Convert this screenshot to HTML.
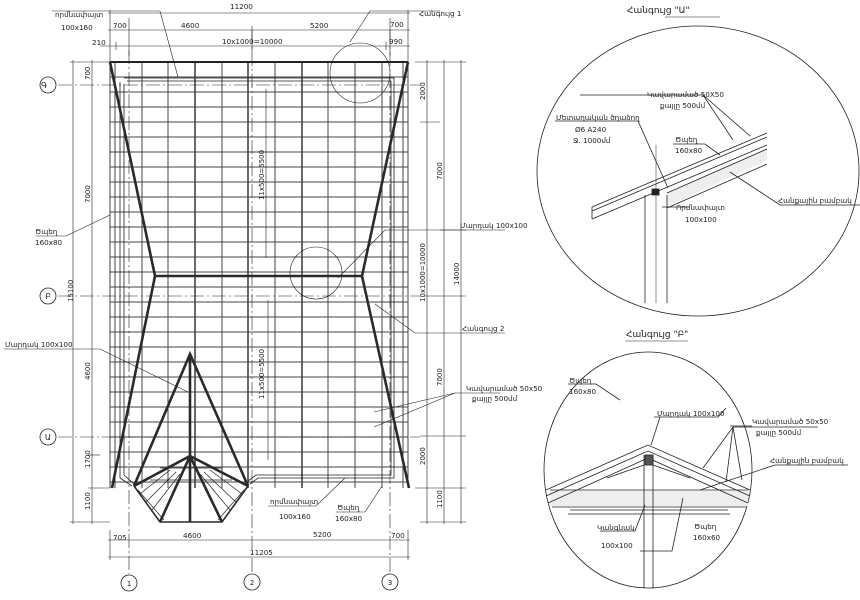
<!DOCTYPE html>
<html><head><meta charset="utf-8"><style>
html,body{margin:0;padding:0;background:#fff;}
svg{display:block}
text{font-family:"DejaVu Sans","Liberation Sans",sans-serif;fill:#222;}
.t{font-size:7.2px}
</style></head><body>
<svg id="s" width="860" height="600" viewBox="0 0 860 600" xmlns="http://www.w3.org/2000/svg">
<g id="grid" stroke="#444" fill="none"></g>
<g stroke="#222" fill="none" stroke-width="0.8">
 <line x1="110" y1="62" x2="408" y2="62" stroke-width="2"/>
 <path d="M124 78 H394 V478 H258 L250 484 M120 82 V478 L132 486" stroke-width="0.8"/>
 <path d="M127 81 H391 V475 H256 L248 481 M124 84 V475 L134 484" stroke-width="0.8"/>
 <g stroke-width="2.6" stroke="#2a2a2a">
  <polyline points="110,62 155,276 112,488"/>
  <polyline points="408,62 362,276 409,488"/>
  <line x1="155" y1="276" x2="362" y2="276"/>
  <polyline points="134,486 190,354 248,486"/>
  <line x1="190" y1="354" x2="190" y2="522"/>
  <polyline points="134,486 190,456 248,486"/>
  <line x1="190" y1="456" x2="160" y2="522"/>
  <line x1="190" y1="456" x2="222" y2="522"/>
  <polyline points="134,486 160,522 222,522 248,486" stroke-width="1.6"/>
 </g>
 <g stroke-width="0.7">
  <line x1="140" y1="494" x2="170" y2="470"/><line x1="146" y1="502" x2="176" y2="472"/><line x1="152" y1="510" x2="180" y2="474"/>
  <line x1="242" y1="494" x2="210" y2="470"/><line x1="236" y1="502" x2="204" y2="472"/><line x1="230" y1="510" x2="200" y2="474"/>
  <line x1="138" y1="490" x2="164" y2="520"/><line x1="244" y1="490" x2="218" y2="520"/>
  <line x1="150" y1="480" x2="232" y2="480"/><line x1="160" y1="468" x2="222" y2="468"/>
 </g>
 <g stroke-width="0.6" stroke-dasharray="14 3 2 3">
  <line x1="58" y1="85" x2="420" y2="85"/><line x1="58" y1="296" x2="420" y2="296"/><line x1="58" y1="437" x2="420" y2="437"/>
  <line x1="129" y1="50" x2="129" y2="574"/><line x1="252" y1="30" x2="252" y2="574"/><line x1="390" y1="30" x2="390" y2="574"/>
 </g>
 <g stroke-width="0.8" fill="#fff">
  <circle cx="48" cy="85" r="8"/><circle cx="48" cy="296" r="8"/><circle cx="48" cy="437" r="8"/>
  <circle cx="129" cy="583" r="8"/><circle cx="252" cy="582" r="8"/><circle cx="390" cy="582" r="8"/>
 </g>
 <g stroke-width="0.6">
  <line x1="108" y1="13" x2="410" y2="13"/><line x1="108" y1="30" x2="410" y2="30"/><line x1="100" y1="46" x2="410" y2="46"/>
  <line x1="110" y1="10" x2="110" y2="62"/><line x1="116" y1="42" x2="116" y2="50"/><line x1="129" y1="18" x2="129" y2="56"/>
  <line x1="252" y1="26" x2="252" y2="52"/><line x1="390" y1="18" x2="390" y2="56"/><line x1="408" y1="10" x2="408" y2="62"/>
  <line x1="386" y1="42" x2="386" y2="50"/>
  <line x1="73" y1="60" x2="73" y2="524"/><line x1="92" y1="60" x2="92" y2="524"/>
  <line x1="70" y1="62" x2="110" y2="62"/><line x1="70" y1="522" x2="110" y2="522"/><line x1="88" y1="488" x2="110" y2="488"/><line x1="88" y1="455" x2="100" y2="455"/>
  <line x1="427" y1="60" x2="427" y2="524"/><line x1="444" y1="60" x2="444" y2="524"/><line x1="461" y1="60" x2="461" y2="524"/>
  <line x1="415" y1="62" x2="466" y2="62"/><line x1="415" y1="488" x2="466" y2="488"/><line x1="420" y1="522" x2="466" y2="522"/>
  <line x1="420" y1="122" x2="440" y2="122"/><line x1="420" y1="436" x2="466" y2="436"/><line x1="424" y1="296" x2="466" y2="296"/><line x1="440" y1="230" x2="466" y2="230"/>
  <line x1="108" y1="540" x2="410" y2="540"/><line x1="108" y1="557" x2="410" y2="557"/>
  <line x1="110" y1="530" x2="110" y2="560"/><line x1="408" y1="530" x2="408" y2="560"/>
  <line x1="266" y1="89" x2="266" y2="258"/><line x1="268" y1="300" x2="268" y2="460"/>
  <polyline points="52,11 160,11 178,77"/>
  <polyline points="440,11 370,11 350,42"/>
  <circle cx="360" cy="73" r="30"/>
  <circle cx="316" cy="273" r="26"/>
  <polyline points="36,236 66,236 110,215"/>
  <polyline points="505,230 385,230 338,278"/>
  <polyline points="505,333 415,333 375,304"/>
  <polyline points="4,349 100,349 188,392"/>
  <polyline points="500,393 455,393 374,412"/><line x1="455" y1="393" x2="374" y2="427"/>
  <polyline points="268,506 316,506 345,478"/>
  <polyline points="336,512 365,512 382,486"/>
 </g>
</g>
<g class="t">
 <text x="230" y="9">11200</text>
 <text x="55" y="17">որմնափայտ</text><text x="61" y="30">100x160</text>
 <text x="113" y="28">700</text><text x="181" y="28">4600</text><text x="310" y="28">5200</text><text x="390" y="27">700</text>
 <text x="92" y="45">210</text><text x="222" y="44">10x1000=10000</text><text x="389" y="44">990</text>
 <text x="419" y="16">Հանգույց 1</text>
 <text x="44" y="88" font-size="8" text-anchor="middle">Գ</text><text x="48" y="299" font-size="8" text-anchor="middle">Բ</text><text x="48" y="440" font-size="8" text-anchor="middle">Ա</text>
 <text x="129" y="586" text-anchor="middle">1</text><text x="252" y="585" text-anchor="middle">2</text><text x="390" y="585" text-anchor="middle">3</text>
 <text x="35" y="234">Ծպեղ</text><text x="35" y="245">160x80</text>
 <text x="5" y="347">Մարդակ 100x100</text>
 <text x="460" y="228">Մարդակ 100x100</text>
 <text x="462" y="331">Հանգույց 2</text>
 <text x="466" y="391">Կավարամած 50x50</text><text x="472" y="401">քայլը 500մմ</text>
 <text x="270" y="504">որմնափայտ</text><text x="279" y="519">100x160</text>
 <text x="337" y="510">Ծպեղ</text><text x="335" y="521">160x80</text>
 <text x="113" y="540">705</text><text x="183" y="538">4600</text><text x="313" y="537">5200</text><text x="391" y="538">700</text>
 <text x="250" y="555">11205</text>
 <g font-size="7">
 <text transform="translate(90,80) rotate(-90)">700</text>
 <text transform="translate(90,203) rotate(-90)">7000</text>
 <text transform="translate(73,302) rotate(-90)">15100</text>
 <text transform="translate(90,380) rotate(-90)">4600</text>
 <text transform="translate(90,468) rotate(-90)">1700</text>
 <text transform="translate(90,510) rotate(-90)">1100</text>
 <text transform="translate(264,200) rotate(-90)">11x500=5500</text>
 <text transform="translate(264,399) rotate(-90)">11x500=5500</text>
 <text transform="translate(425,100) rotate(-90)">2000</text>
 <text transform="translate(442,180) rotate(-90)">7000</text>
 <text transform="translate(425,302) rotate(-90)">10x1000=10000</text>
 <text transform="translate(459,285) rotate(-90)">14000</text>
 <text transform="translate(442,386) rotate(-90)">7000</text>
 <text transform="translate(425,465) rotate(-90)">2000</text>
 <text transform="translate(442,508) rotate(-90)">1100</text>
 </g>
</g>

<g stroke="#222" fill="none" stroke-width="0.8">
 <ellipse cx="698" cy="171" rx="161" ry="145"/>
 <line x1="665" y1="17" x2="720" y2="17" stroke-width="0.6"/>
 <polygon points="667,193 767,148 767,160 667,207" fill="#eee" stroke="none"/>
 <line x1="592" y1="207" x2="767" y2="133"/><line x1="592" y1="211" x2="767" y2="137"/><line x1="592" y1="219" x2="767" y2="145"/>
 <line x1="592" y1="207" x2="592" y2="219"/>
 <line x1="667" y1="193" x2="767" y2="149"/><line x1="667" y1="208" x2="767" y2="164"/>
 <line x1="645" y1="195" x2="645" y2="303"/><line x1="667" y1="195" x2="667" y2="303"/><line x1="656" y1="145" x2="656" y2="303" stroke-width="0.5"/>
 <rect x="652" y="189" width="7" height="6" fill="#222"/>
 <polyline points="555,121 638,121 668,188"/>
 <polyline points="580,95 703,95 733,140"/><line x1="703" y1="95" x2="750" y2="136"/>
 <polyline points="673,144 705,144 720,155"/>
 <polyline points="662,207 690,207"/><polyline points="860,205 780,205 730,172"/>
</g>
<g class="t">
 <text x="627" y="13" font-size="9">Հանգույց "Ա"</text>
 <text x="647" y="97">Կավարամած 50X50</text><text x="660" y="108">քայլը 500մմ</text>
 <text x="556" y="120">Մետաղական ծղաձող</text><text x="575" y="132">Ø6 A240</text><text x="573" y="143">Ջ. 1000մմ</text>
 <text x="675" y="142">Ծպեղ</text><text x="675" y="153">160x80</text>
 <text x="676" y="210">Որմնափայտ</text><text x="685" y="222">100x100</text>
 <text x="778" y="203">Հանքային բամբակ</text>
</g>

<g stroke="#222" fill="none" stroke-width="0.8">
 <ellipse cx="648" cy="470" rx="104" ry="118"/>
 <line x1="625" y1="341" x2="688" y2="341" stroke-width="0.6"/>
 <polygon points="550,491 748,491 748,506 550,506" fill="#eee" stroke="none"/>
 <line x1="550" y1="490" x2="748" y2="490"/><line x1="552" y1="507" x2="746" y2="507"/>
 <polyline points="546,490 648,445 750,490"/><polyline points="546,496 648,451 750,496"/><polyline points="548,503 648,458 748,503"/>
 <line x1="570" y1="510" x2="728" y2="510"/><line x1="568" y1="514" x2="730" y2="514"/>
 <line x1="607" y1="478" x2="644" y2="465"/><line x1="653" y1="465" x2="690" y2="478"/>
 <line x1="644" y1="455" x2="644" y2="588"/><line x1="653" y1="455" x2="653" y2="588"/>
 <rect x="645" y="455" width="8" height="10" fill="#555"/>
 <polyline points="654,417 718,417 726,408"/><polyline points="660,417 651,445"/>
 <polyline points="568,384 596,384 620,400"/><line x1="752" y1="426" x2="730" y2="426"/>
 <polyline points="818,427 733,427 703,468"/><line x1="733" y1="427" x2="726" y2="482"/><line x1="733" y1="427" x2="742" y2="480"/>
 <polyline points="848,465 775,465 700,490"/>
 <polyline points="600,531 635,531 645,505"/>
 <polyline points="640,551 672,551 683,498"/>
</g>
<g class="t">
 <text x="626" y="337" font-size="9">Հանգույց "Բ"</text>
 <text x="657" y="416">Մարդակ 100x100</text>
 <text x="752" y="424">Կավարամած 50x50</text><text x="756" y="435">քայլը 500մմ</text>
 <text x="569" y="383">Ծպեղ</text><text x="569" y="394">160x80</text>
 <text x="770" y="463">Հանքային բամբակ</text>
 <text x="694" y="529">Ծպեղ</text><text x="693" y="540">160x60</text>
 <text x="597" y="530">Կանգնակ</text><text x="601" y="548">100x100</text>
</g>
<script>
var g=document.getElementById('grid'),ns='http://www.w3.org/2000/svg';
function L(a,b,c,d,w){var l=document.createElementNS(ns,'line');l.setAttribute('x1',a);l.setAttribute('y1',b);l.setAttribute('x2',c);l.setAttribute('y2',d);l.setAttribute('stroke-width',w);g.appendChild(l);}
var xs=[115,142,168,195,222,248,275,302,328,355,382,403];
xs.forEach(function(x){var w=(x==195||x==248||x==302)?1.6:1.0;L(x,62,x,488,w);});
for(var y=77;y<=488;y+=15){L(110,y,408,y,1.0);}
L(110,62,110,488,1);L(408,62,408,488,1);
</script>
</svg>
</body></html>
